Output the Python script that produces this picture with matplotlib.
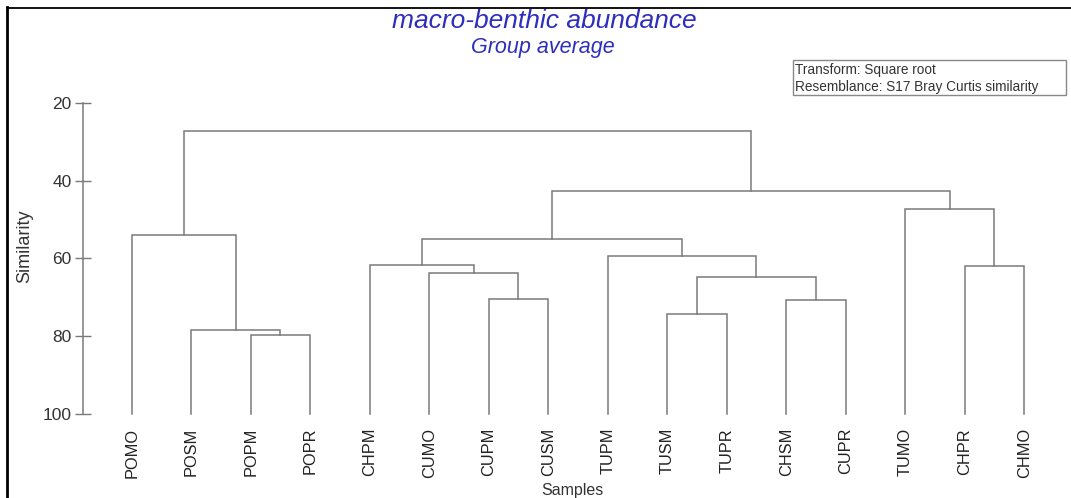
import matplotlib
matplotlib.use("Agg")
import matplotlib.pyplot as plt
from matplotlib.patches import Rectangle
from matplotlib.lines import Line2D

# leaves in plotting order
samples = ["POMO", "POSM", "POPM", "POPR", "CHPM", "CUMO", "CUPM", "CUSM",
           "TUPM", "TUSM", "TUPR", "CHSM", "CUPR", "TUMO", "CHPR", "CHMO"]

# merges (new node ids start at 16), similarity
left_child = [2, 1, 6, 11, 9, 5, 4, 20, 8, 14, 22, 13, 0, 26, 28]
right_child = [3, 16, 7, 12, 10, 18, 21, 19, 23, 15, 24, 25, 17, 27, 29]
similarity = [79.7, 78.5, 70.4, 70.6, 74.2, 63.8, 61.7, 64.8, 59.5, 61.9,
              54.9, 47.2, 54.0, 42.6, 27.2]

yticks = [20, 40, 60, 80, 100]

plt.rcParams['font.family'] = ['Liberation Sans', 'DejaVu Sans']

W, H = 1071, 498
fig = plt.figure(figsize=(W / 100, H / 100), dpi=100)
fig.patch.set_facecolor("white")

ax_l, ax_r = 82.7, 1060
ax_t, ax_b = 102.7, 414
ax = fig.add_axes([ax_l / W, 1 - ax_b / H, (ax_r - ax_l) / W, (ax_b - ax_t) / H])

n = len(samples)
xpos = list(range(n))
hgt = [100.0] * n
lc = "#7a7a7a"
for a, b, s in zip(left_child, right_child, similarity):
    xa, xb = xpos[a], xpos[b]
    ax.plot([xa, xa, xb, xb], [hgt[a], s, s, hgt[b]], color=lc, lw=1.1,
            clip_on=False, solid_joinstyle="miter")
    xpos.append((xa + xb) / 2)
    hgt.append(s)

# pixel mapping: leaf 0 at 131.7, spacing 59.5
x0, dx = 131.7, 59.5
ax.set_xlim((ax_l - x0) / dx, (ax_r - x0) / dx)
ax.set_ylim(100, 20)

for sp in ["top", "right", "bottom"]:
    ax.spines[sp].set_visible(False)
ax.spines["left"].set_color(lc)
ax.spines["left"].set_linewidth(1.1)

ax.set_yticks(yticks)
ax.set_yticklabels([str(v) for v in yticks], fontsize=12.5, color="#333333")
ax.tick_params(axis="y", direction="inout", length=12, width=1, color=lc, pad=2)
ax.set_xticks(range(n))
ax.set_xticklabels(samples, rotation=90, fontsize=11.8, color="#222222")
ax.tick_params(axis="x", length=0, pad=10)

fig.text(25 / W, 1 - 246 / H, "Similarity", rotation=90, ha="center",
         va="center", fontsize=13, color="#333333")
fig.text(572 / W, 1 - 490 / H, "Samples", ha="center", va="center",
         fontsize=11.5, color="#333333")

blue = "#2e2ebd"
fig.text(544 / W, 1 - 21 / H, "macro-benthic abundance", ha="center",
         va="center", fontsize=19, style="italic", color=blue)
fig.text(543 / W, 1 - 48 / H, "Group average", ha="center", va="center",
         fontsize=15.5, style="italic", color=blue)

# info box
fig.patches.append(Rectangle((792.7 / W, 1 - 95 / H), (1066 - 792.7) / W,
                             35 / H, transform=fig.transFigure,
                             facecolor="white", edgecolor="#888888", lw=1))
fig.text(795 / W, 1 - 70 / H, "Transform: Square root", ha="left",
         va="center", fontsize=9.8, color="#333333")
fig.text(795 / W, 1 - 87.5 / H, "Resemblance: S17 Bray Curtis similarity",
         ha="left", va="center", fontsize=9.8, color="#333333")

# frame lines of the picture
fig.lines.append(Line2D([6.5 / W, 1], [1 - 8 / H, 1 - 8 / H],
                        transform=fig.transFigure, color="black", lw=1.3))
fig.lines.append(Line2D([6.5 / W, 6.5 / W], [0, 1 - 7 / H],
                        transform=fig.transFigure, color="black", lw=2))

fig.savefig("out.png", dpi=100)
